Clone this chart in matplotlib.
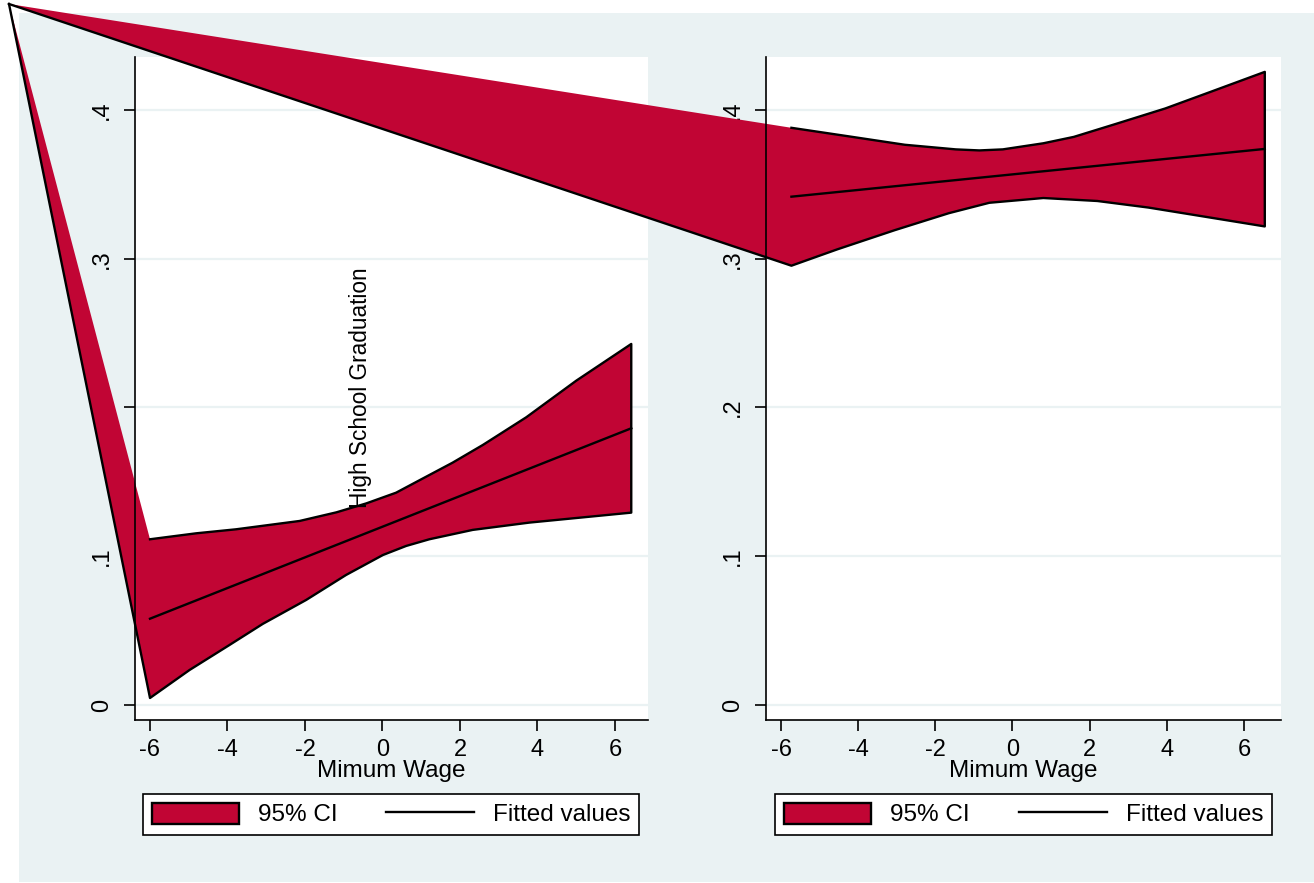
import numpy as np
import matplotlib.pyplot as plt
from matplotlib.patches import Rectangle, Patch
from matplotlib.lines import Line2D

plt.rcParams['font.family'] = ['Liberation Sans', 'DejaVu Sans']
plt.rcParams['axes.unicode_minus'] = False

RED = '#c10534'
BG = '#eaf2f3'

# left panel
left_xu = [-6.0, -4.81, -3.78, -2.14, -1.19, -0.42, 0.35, 1.13, 1.81, 2.59, 3.71, 5.0, 6.42]
left_yu = [0.1114, 0.1154, 0.1181, 0.1237, 0.1295, 0.1355, 0.1427, 0.1535, 0.1629, 0.1748, 0.1934, 0.2180, 0.2427]
left_xl = [-6.0, -4.98, -3.95, -3.09, -1.97, -0.94, 0.01, 0.61, 1.21, 2.33, 3.79, 6.42]
left_yl = [0.0047, 0.0235, 0.0403, 0.0545, 0.0706, 0.0874, 0.1008, 0.1069, 0.1114, 0.1177, 0.1226, 0.1293]
left_xf = [-6.0, 6.42]
left_yf = [0.058, 0.186]

# right panel
right_xu = [-5.73, -4.28, -2.79, -1.47, -0.86, -0.25, 0.80, 1.59, 2.64, 3.96, 5.18, 6.54]
right_yu = [0.3880, 0.3824, 0.3766, 0.3735, 0.3728, 0.3735, 0.3776, 0.3819, 0.3903, 0.4010, 0.4126, 0.4256]
right_xl = [-5.73, -4.54, -3.05, -1.65, -0.60, 0.80, 2.20, 3.52, 4.83, 6.54]
right_yl = [0.2953, 0.3063, 0.3192, 0.3306, 0.3376, 0.3408, 0.3388, 0.3344, 0.3289, 0.3217]
right_xf = [-5.73, 6.54]
right_yf = [0.3417, 0.3738]

xticks = [-6, -4, -2, 0, 2, 4, 6]
xtick_labels = ['-6', '-4', '-2', '0', '2', '4', '6']
yticks = [0, 0.1, 0.2, 0.3, 0.4]
ytick_labels = ['0', '.1', '.2', '.3', '.4']

# the stray polygon vertex sits at the top-left corner of the page
corner_fig = (9 / 1314, 1 - 4 / 883)

W, H = 1314, 883
fig = plt.figure(figsize=(W / 100, H / 100), dpi=100)
fig.add_artist(Rectangle((19 / W, 1 / H), 1 - 19 / W, 869 / H, transform=fig.transFigure,
                         facecolor=BG, edgecolor='none', zorder=-10))


def draw_panel(rect, xlim, xu, yu, xl, yl, xf, yf, legend_box):
    ax = fig.add_axes(rect)
    ax.set_facecolor('white')
    ax.set_xlim(*xlim)
    ax.set_ylim(-0.0101, 0.4356)
    for s in ['top', 'right']:
        ax.spines[s].set_visible(False)
    for s in ['left', 'bottom']:
        ax.spines[s].set_linewidth(1.2)
    ax.set_xticks(xticks)
    ax.set_xticklabels(xtick_labels)
    ax.set_yticks(yticks)
    ax.set_yticklabels(ytick_labels, rotation=90, va='center')
    ax.tick_params(length=8, width=1.2, labelsize=17, pad=6)
    ax.tick_params(axis='y', pad=8)
    ax.yaxis.grid(True, color=BG, lw=1.6)
    ax.set_axisbelow(True)
    ax.set_xlabel('Mimum Wage', fontsize=17.5, labelpad=-1)

    # corner point in this axes' data coords
    cx, cy = ax.transData.inverted().transform(fig.transFigure.transform(corner_fig))
    px = list(xu) + list(xl[::-1]) + [cx]
    py = list(yu) + list(yl[::-1]) + [cy]
    ax.fill(px, py, color=RED, lw=0, clip_on=False, zorder=1)
    ax.plot(px, py, color='black', lw=1.7, clip_on=False, zorder=1.5, solid_joinstyle='round')
    ax.plot(xf, yf, color='black', lw=1.7, zorder=2)

    handles = [Patch(facecolor=RED, edgecolor='black', lw=1.7, label='95% CI'),
               Line2D([], [], color='black', lw=1.7, label='Fitted values')]
    leg = ax.legend(handles=handles, loc='lower left', bbox_to_anchor=legend_box,
                    bbox_transform=fig.transFigure, mode='expand', ncol=2,
                    fancybox=False, edgecolor='black', framealpha=1, fontsize=17.5,
                    handlelength=3.6, handleheight=0.95, handletextpad=0.8,
                    borderaxespad=0, borderpad=0.35)
    leg.get_frame().set_linewidth(1.2)
    return ax


ax1 = draw_panel([135 / W, 1 - 720 / H, 513 / W, 663 / H], (-6.387, 6.852),
                 left_xu, left_yu, left_xl, left_yl, left_xf, left_yf,
                 (143 / W, 1 - 835 / H, 496 / W, 42 / H))
ax2 = draw_panel([766 / W, 1 - 720 / H, 515 / W, 663 / H], (-6.389, 6.96),
                 right_xu, right_yu, right_xl, right_yl, right_xf, right_yf,
                 (775 / W, 1 - 835 / H, 497 / W, 42 / H))

fig.text(360 / W, 1 - 388 / H, 'High School Graduation', rotation=90,
         ha='center', va='center', fontsize=16.3, zorder=5)

fig.savefig('out.png', dpi=100)
